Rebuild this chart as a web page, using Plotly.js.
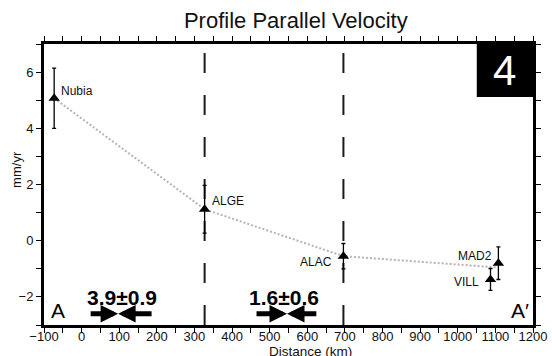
<!DOCTYPE html>
<html>
<head>
<meta charset="utf-8">
<script src="https://cdn.plot.ly/plotly-3.0.1.min.js"></script>
<style>html,body{margin:0;padding:0;background:#fff;}#chart{width:552px;height:356px;}</style>
</head>
<body>
<div id="chart"></div>
<script>
// Stations along the profile
var stationNames = ['Nubia', 'ALGE', 'ALAC', 'MAD2', 'VILL'];
var stationDist = [-73, 327, 696, 1108, 1087];
var stationVel = [5.07, 1.12, -0.55, -0.80, -1.38];
var stationErr = [1.07, 0.85, 0.45, 0.58, 0.39];

// Profile trend line
var trendDist = [-73, 327, 696, 1104];
var trendVel = [5.07, 1.12, -0.55, -0.95];

// Block boundaries (dashed lines)
var boundaryDist = [327, 696];

// Convergence rates between blocks
var rateLabels = ['3.9±0.9', '1.6±0.6'];
var rateCenter = [97, 546];
var rateLeft = [20, 461];
var rateRight = [190, 628];
var rateTextX = [107, 537];

// Profile end labels
var endLabels = ['A', 'A′'];
var endDist = [-64, 1165];
var endVel = [-2.47, -2.49];

var panelLabel = '4';

var FONT = 'Liberation Sans, Arial, Helvetica, sans-serif';

var traces = [
  {
    x: trendDist, y: trendVel, type: 'scatter', mode: 'lines', xaxis: 'x', yaxis: 'y',
    line: {color: '#b4b4b4', width: 2, dash: '2px,2px'},
    hoverinfo: 'skip', showlegend: false
  },
  {
    x: stationDist, y: stationVel, type: 'scatter', mode: 'markers', xaxis: 'x2', yaxis: 'y',
    marker: {symbol: 'triangle-up', size: 10, color: '#000'},
    error_y: {type: 'data', array: stationErr, visible: true, color: '#000', thickness: 1.3, width: 2},
    showlegend: false
  }
];

var shapes = boundaryDist.map(function (d) {
  return {type: 'line', xref: 'x', yref: 'paper', x0: d, x1: d, y0: 0, y1: 1,
          line: {color: '#1a1a1a', width: 2, dash: '20px,22px'}, layer: 'below'};
});
shapes.push({type: 'rect', xref: 'paper', yref: 'paper', x0: 0.885, x1: 1, y0: 0.811, y1: 1,
             fillcolor: '#000', line: {width: 0}, layer: 'above'});

var annotations = [];
// station labels
var lblOpts = {
  'Nubia': {xanchor: 'left', xshift: 5, yshift: 7},
  'ALGE': {xanchor: 'left', xshift: 5, yshift: 8},
  'ALAC': {xanchor: 'right', xshift: -9, yshift: -6},
  'MAD2': {xanchor: 'right', xshift: -4, yshift: 7},
  'VILL': {xanchor: 'right', xshift: -9, yshift: -3}
};
stationNames.forEach(function (n, i) {
  var o = lblOpts[n];
  annotations.push({x: stationDist[i], y: stationVel[i], xref: 'x', yref: 'y', text: n, showarrow: false,
    xanchor: o.xanchor, yanchor: 'middle', xshift: o.xshift, yshift: o.yshift,
    font: {family: FONT, size: 12, color: '#111'}});
});
// convergence arrows and rates
rateLabels.forEach(function (t, i) {
  annotations.push({x: rateTextX[i], y: -2.03, xref: 'x', yref: 'y', text: '<b>' + t + '</b>', showarrow: false,
    xanchor: 'center', yanchor: 'middle', font: {family: FONT, size: 21, color: '#000'}});
  [rateLeft[i], rateRight[i]].forEach(function (s) {
    annotations.push({x: rateCenter[i], y: -2.6, ax: s, ay: -2.6, axref: 'x', ayref: 'y', xref: 'x', yref: 'y',
      text: '', showarrow: true, arrowhead: 2, arrowwidth: 5, arrowsize: 0.7, arrowcolor: '#000', standoff: 0});
  });
});
// end labels
endLabels.forEach(function (t, i) {
  annotations.push({x: endDist[i], y: endVel[i], xref: 'x', yref: 'y', text: t, showarrow: false,
    xanchor: 'center', yanchor: 'middle', font: {family: FONT, size: 21, color: '#000'}});
});
// panel number
annotations.push({x: 0.9425, y: 0.905, xref: 'paper', yref: 'paper', text: panelLabel, showarrow: false,
  xanchor: 'center', yanchor: 'middle', font: {family: FONT, size: 42, color: '#fff'}});
// axis titles
annotations.push({x: 0.544, y: 0, xref: 'paper', yref: 'paper', text: 'Distance (km)', showarrow: false,
  xanchor: 'center', yanchor: 'top', yshift: -17, font: {family: FONT, size: 13.5, color: '#111'}});
annotations.push({x: 0, y: 0.552, xref: 'paper', yref: 'paper', text: 'mm/yr', showarrow: false, textangle: -90,
  xanchor: 'center', yanchor: 'middle', xshift: -27, font: {family: FONT, size: 13, color: '#111'}});

var layout = {
  width: 552, height: 356,
  margin: {l: 44, r: 19, t: 44, b: 31},
  paper_bgcolor: '#fff', plot_bgcolor: '#fff',
  title: {text: 'Profile Parallel Velocity', x: 0.515, xref: 'paper', xanchor: 'center',
          y: 0.944, yref: 'container', yanchor: 'middle',
          font: {family: FONT, size: 22, color: '#111'}},
  xaxis: {range: [-100, 1200], dtick: 100, tick0: 0, showgrid: false, zeroline: false,
          showline: true, linewidth: 3, linecolor: '#000', mirror: true,
          ticks: '', ticklabelstandoff: -3,
          tickfont: {family: FONT, size: 13, color: '#111'}},
  xaxis2: {matches: 'x', overlaying: 'x', side: 'bottom', dtick: 50, tick0: 0,
          showgrid: false, zeroline: false, showticklabels: false,
          showline: true, linewidth: 3, linecolor: '#000', mirror: 'ticks',
          ticks: 'outside', ticklen: 5, tickwidth: 1, tickcolor: '#000'},
  yaxis: {range: [-3, 7], dtick: 2, tick0: 0, showgrid: false, zeroline: false,
          showline: true, linewidth: 3, linecolor: '#000', mirror: 'ticks',
          ticks: 'outside', ticklen: 5, tickwidth: 1, tickcolor: '#000',
          minor: {dtick: 1, ticks: 'outside', ticklen: 5, tickwidth: 1, tickcolor: '#000', showgrid: false},
          tickfont: {family: FONT, size: 13, color: '#111'}},
  shapes: shapes,
  annotations: annotations,
  showlegend: false
};

Plotly.newPlot('chart', traces, layout, {displayModeBar: false, staticPlot: true});
</script>
</body>
</html>
